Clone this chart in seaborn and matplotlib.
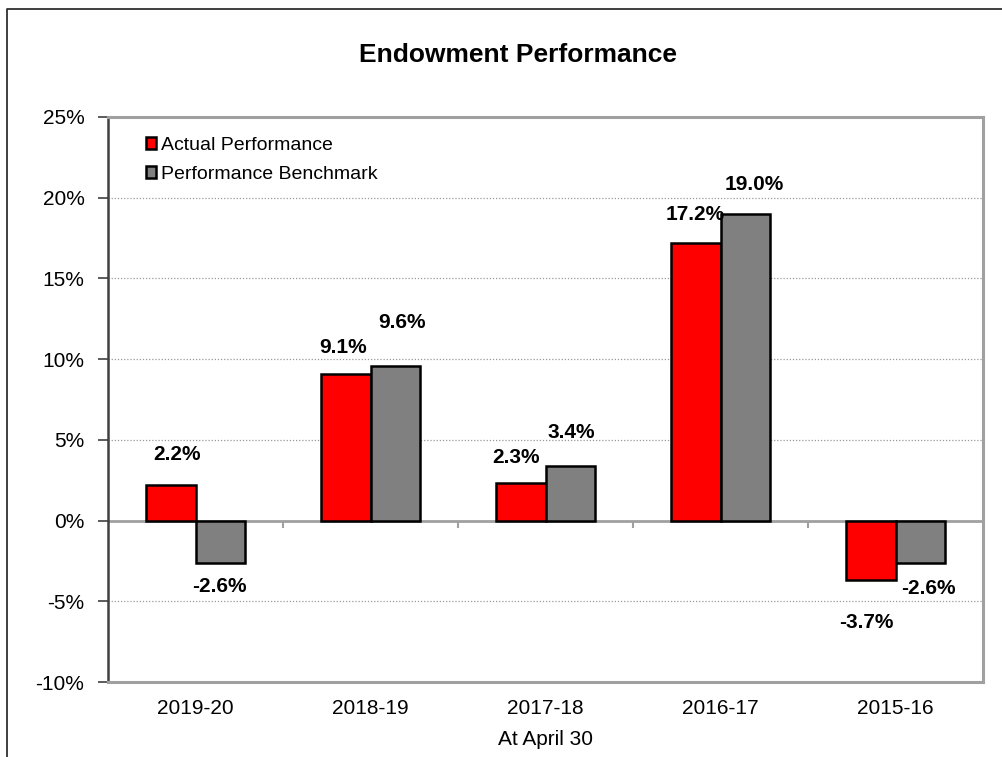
import matplotlib
matplotlib.use("Agg")
import matplotlib.pyplot as plt
import matplotlib.lines as mlines
from matplotlib.patches import Patch
import seaborn as sns
import pandas as pd

# ---- data ----
years = ["2019-20", "2018-19", "2017-18", "2016-17", "2015-16"]
actual = [2.2, 9.1, 2.3, 17.2, -3.7]
benchmark = [-2.6, 9.6, 3.4, 19.0, -2.6]
series_names = ["Actual Performance", "Performance Benchmark"]
yticks = [-10, -5, 0, 5, 10, 15, 20, 25]

# label offsets (pixels: dx right, dy up from bar end)
label_offsets = [
    [(6.5, 31), (-2, 26), (-5, 26), (0, 28), (-4, -42)],
    [(-1, -24), (7, 43), (1, 33), (8.5, 29), (8, -26)],
]

df = pd.DataFrame({
    "Year": years * 2,
    "Value": actual + benchmark,
    "Series": [series_names[0]] * len(years) + [series_names[1]] * len(years),
})

sns.set_style("white")
plt.rcParams["font.family"] = ["Liberation Sans", "DejaVu Sans"]
plt.rcParams["text.color"] = "black"
plt.rcParams["axes.labelcolor"] = "black"
plt.rcParams["xtick.labelcolor"] = "black"
plt.rcParams["ytick.labelcolor"] = "black"

W, H = 1003, 757
fig = plt.figure(figsize=(W / 100, H / 100), dpi=100)
ax = fig.add_axes([108 / W, 1 - 682 / H, (983 - 108) / W, (682 - 117) / H])

colors = ["#FF0000", "#808080"]
sns.barplot(data=df, x="Year", y="Value", hue="Series", order=years,
            hue_order=series_names, palette=colors, width=0.571,
            edgecolor="black", linewidth=1.8, saturation=1, legend=False,
            ax=ax, zorder=3)

ax.set_ylim(-10, 25)
ax.set_xlim(-0.5, len(years) - 0.5)
ax.set_yticks(yticks)
ax.set_yticklabels([f"{v}%" for v in yticks], fontsize=15, color="black")
ax.tick_params(axis="y", direction="out", length=7, width=1.2, color="#404040",
               left=True, pad=10, labelcolor="black")
ax.tick_params(axis="x", length=0, labelsize=15, pad=12, labelcolor="black")

# gridlines (dotted) except top/bottom/zero
for v in yticks:
    if v not in (yticks[0], yticks[-1], 0):
        ax.axhline(v, color="#999999", linestyle=(0, (1, 1.5)), linewidth=0.9, zorder=1)

# zero axis line and category-boundary ticks
ax.axhline(0, color="#A0A0A0", linewidth=2, zorder=2)
ax.vlines([i + 0.5 for i in range(len(years) - 1)], -0.45, 0, color="#A0A0A0",
          linewidth=1.5, zorder=2)

for side in ["top", "right", "bottom"]:
    ax.spines[side].set_color("#A0A0A0")
    ax.spines[side].set_linewidth(2.2)
ax.spines["left"].set_color("#404040")
ax.spines["left"].set_linewidth(1.8)

ax.set_ylabel("")
ax.set_xlabel("At April 30", fontsize=15, labelpad=9, color="black")

# data labels
for container, vals, offs in zip(ax.containers, [actual, benchmark], label_offsets):
    for bar, v, (dx, dy) in zip(container, vals, offs):
        cx = bar.get_x() + bar.get_width() / 2
        ax.annotate(f"{v:.1f}%", xy=(cx, v), xytext=(dx * 0.72, dy * 0.72),
                    textcoords="offset points", ha="center", va="center",
                    fontsize=15, fontweight="bold", color="black", zorder=5)

# legend
handles = [Patch(facecolor=c, edgecolor="black", linewidth=1.8) for c in colors]
leg = ax.legend(handles, series_names, loc="upper left",
                bbox_to_anchor=(30 / 875, 1 - 12 / 565), frameon=False,
                fontsize=14, handlelength=0.55, handleheight=0.55,
                handletextpad=0.25, labelspacing=0.62, borderaxespad=0)
for t in leg.get_texts():
    t.set_color("black")

# title
fig.text(518 / W, 1 - 55 / H, "Endowment Performance", ha="center", va="center",
         fontsize=19, fontweight="bold", color="black")

# outer chart frame (left and top edges)
fig.add_artist(mlines.Line2D([7 / W, 7 / W, 1], [0, 1 - 9 / H, 1 - 9 / H],
                             color="#303030", linewidth=1.3,
                             transform=fig.transFigure))

fig.savefig("out.png", dpi=100)
